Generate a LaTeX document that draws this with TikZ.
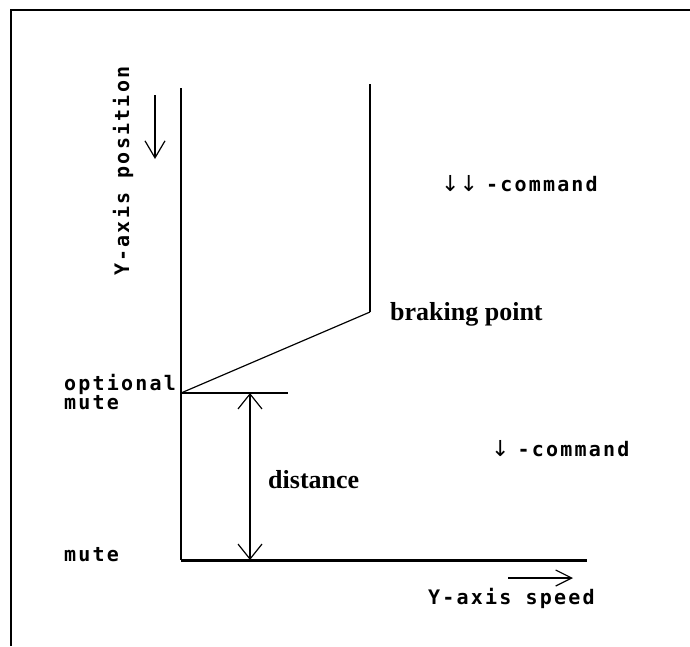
\documentclass[tikz,border=0pt]{standalone}
\usepackage{fontspec}
\usetikzlibrary{arrows.meta}
\newfontfamily\pixfont[LetterSpace=11]{DejaVu Sans Mono Bold}
\newfontfamily\serifb{Liberation Serif Bold}
\newfontfamily\symfont{DejaVu Sans}
\tikzset{
  frameline/.style={line width=2pt},
  axisline/.style={line width=2pt},
  baseline/.style={line width=3pt},
  thinline/.style={line width=1.2pt},
  pix/.style={font=\pixfont\fontsize{20}{20}\selectfont, inner sep=0pt},
  serifbold/.style={font=\serifb\fontsize{26}{26}\selectfont, inner sep=0pt},
  vtips/.style={{Straight Barb[length=15pt,width=24pt,line width=1.2pt]}-{Straight Barb[length=15pt,width=24pt,line width=1.2pt]}},
}
\begin{document}
\begin{tikzpicture}[x=1pt,y=-1pt]
\useasboundingbox (0,0) rectangle (690,646);
% frame
\coordinate (fbl) at (11,646);
\coordinate (ftl) at (11,10);
\coordinate (ftr) at (690,10);
\draw[frameline] (fbl) -- (ftl) -- (ftr);
% axes
\coordinate (ytop) at (181,88);
\coordinate (origin) at (181,560);
\coordinate (xend) at (587,560);
\coordinate (rtop) at (370,84);
\coordinate (brake) at (370,312);
\coordinate (opt) at (181,393);
\coordinate (optend) at (288,393);
\draw[axisline] (ytop) -- (origin);
\draw[baseline] (origin) -- (xend);
\draw[axisline] (rtop) -- (brake);
\draw[thinline] (brake) -- (opt);
\draw[axisline] (opt) -- (optend);
% distance arrow
\coordinate (dtop) at (250,393);
\coordinate (dbot) at (250,560);
\draw[thinline, vtips] (dtop) -- (dbot);
% y-axis direction arrow
\coordinate (ya1) at (155,95);
\coordinate (ya2) at (155,159);
\draw[thinline, -{Straight Barb[length=17pt,width=20pt,line width=1.2pt]}] (ya1) -- (ya2);
% x-axis direction arrow
\coordinate (xa1) at (508,578);
\coordinate (xa2) at (573,578);
\draw[thinline, -{Straight Barb[length=16pt,width=16pt,line width=1.2pt]}] (xa1) -- (xa2);
% labels
\node[pix, rotate=90, anchor=base west] (ylabel) at (129,276) {Y-axis position};
\node[pix, anchor=base west] (xlabel) at (428,604) {Y-axis speed};
\node[pix, anchor=base west] (optlabel) at (64,390) {optional};
\node[pix, anchor=base west] (mutelabel1) at (64,409) {mute};
\node[pix, anchor=base west] (mutelabel2) at (64,561) {mute};
\node[serifbold, anchor=base west] (braking) at (390,320) {braking point};
\node[serifbold, anchor=base west] (dist) at (268,488) {distance};
\node[anchor=base west, inner sep=0pt] (cmd2) at (441,191) {{\symfont\fontsize{22}{22}\selectfont ↓↓}\hspace{8pt}{\pixfont\fontsize{20}{20}\selectfont -command}};
\node[anchor=base west, inner sep=0pt] (cmd1) at (491,456) {{\symfont\fontsize{22}{22}\selectfont ↓}\hspace{8pt}{\pixfont\fontsize{20}{20}\selectfont -command}};
\end{tikzpicture}
\end{document}
